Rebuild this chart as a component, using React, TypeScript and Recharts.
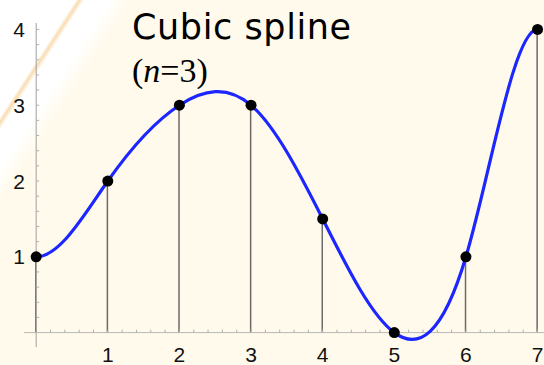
import { ComposedChart, Line, Bar, Scatter, XAxis, YAxis, ReferenceLine } from 'recharts';

// knot positions and values of the interpolated points
const knotX = [0, 1, 2, 3, 4, 5, 6, 7];
const knotY = [1, 2, 3, 3, 1.5, 0, 1, 4];

const xTickLabels = [1, 2, 3, 4, 5, 6, 7];
const yTickLabels = [1, 2, 3, 4];

const points = knotX.map((x, i) => ({ x, y: knotY[i] }));

// small axis tick marks every 0.2
const minorXTicks = Array.from({ length: 35 }, (_, i) => ({ x: (i + 1) / 5, y: 0 }));
const minorYTicks = Array.from({ length: 20 }, (_, i) => ({ x: 0, y: (i + 1) / 5 }));

const W = 544;
const H = 365;

// cubic spline through the points with zero slope at both ends (clamped),
// handed to the Line as a d3-style curve factory
function clampedSpline(context: any) {
  let xs: number[] = [];
  let ys: number[] = [];
  return {
    areaStart() {},
    areaEnd() {},
    lineStart() {
      xs = [];
      ys = [];
    },
    point(x: number, y: number) {
      xs.push(+x);
      ys.push(+y);
    },
    lineEnd() {
      const n = xs.length;
      if (!n) return;
      context.moveTo(xs[0], ys[0]);
      if (n === 1) return;
      const h: number[] = [];
      const d: number[] = [];
      for (let i = 0; i < n - 1; i++) {
        h.push(xs[i + 1] - xs[i]);
        d.push((ys[i + 1] - ys[i]) / h[i]);
      }
      const s = new Array(n).fill(0);
      if (n > 2) {
        const cp: number[] = [];
        const dp: number[] = [];
        for (let i = 1; i < n - 1; i++) {
          const a = i > 1 ? h[i] : 0;
          const b = 2 * (h[i - 1] + h[i]);
          const c = i < n - 2 ? h[i - 1] : 0;
          const r = 3 * (h[i] * d[i - 1] + h[i - 1] * d[i]);
          const k = i - 1;
          const denom = k > 0 ? b - a * cp[k - 1] : b;
          cp[k] = c / denom;
          dp[k] = k > 0 ? (r - a * dp[k - 1]) / denom : r / denom;
        }
        for (let k = n - 3; k >= 0; k--) {
          s[k + 1] = dp[k] - (k < n - 3 ? cp[k] * s[k + 2] : 0);
        }
      }
      for (let i = 0; i < n - 1; i++) {
        const t = h[i] / 3;
        context.bezierCurveTo(
          xs[i] + t,
          ys[i] + s[i] * t,
          xs[i + 1] - t,
          ys[i + 1] - s[i + 1] * t,
          xs[i + 1],
          ys[i + 1],
        );
      }
    },
  };
}

const XTickMark = (props: any) => (
  <line x1={props.cx} x2={props.cx} y1={props.cy} y2={props.cy - 3} stroke="#b0b0b0" strokeWidth={1} />
);

const YTickMark = (props: any) => (
  <line x1={props.cx} x2={props.cx + 3} y1={props.cy} y2={props.cy} stroke="#b0b0b0" strokeWidth={1} />
);

const labelStyle = { fontFamily: 'Liberation Sans', fontSize: '21px', fill: '#111' };

const XTick = (props: any) => (
  <text x={props.x} y={props.y + 15} textAnchor="middle" style={labelStyle}>
    {props.payload.value}
  </text>
);

const YTick = (props: any) => (
  <text x={props.x + 1} y={props.y + 7.5} textAnchor="end" style={labelStyle}>
    {props.payload.value}
  </text>
);

function App() {
  return (
    <div
      style={{
        position: 'absolute',
        left: 0,
        top: 0,
        width: W,
        height: H,
        background:
          'linear-gradient(123deg, #ffffff 0%, #ffffff 9.7%, #f9dcb0 10.2%, #ffffff 10.8%, #ffffff 14%, #fffaeb 17%, #fffaeb 100%)',
      }}
    >
      <ComposedChart
        width={W}
        height={H}
        data={points}
        margin={{ top: 23, right: 0, bottom: 0, left: 0 }}
      >
        <XAxis
          dataKey="x"
          type="number"
          domain={[-0.17, 7.09]}
          ticks={xTickLabels}
          axisLine={false}
          tickLine={false}
          tickSize={0}
          tickMargin={0}
          height={18}
          tick={<XTick />}
          interval={0}
        />
        <YAxis
          type="number"
          domain={[-0.19, 4.085]}
          ticks={yTickLabels}
          axisLine={false}
          tickLine={false}
          tickSize={0}
          tickMargin={0}
          width={24}
          tick={<YTick />}
          interval={0}
        />
        <ReferenceLine x={0} stroke="#a0a0a0" strokeWidth={1} />
        <ReferenceLine y={0} stroke="#b8b8b8" strokeWidth={1} />
        <Scatter data={minorXTicks} dataKey="y" shape={XTickMark} isAnimationActive={false} />
        <Scatter data={minorYTicks} dataKey="y" shape={YTickMark} isAnimationActive={false} />
        <Bar dataKey="y" barSize={1.5} fill="#6a6a6a" isAnimationActive={false} />
        <Line
          type={clampedSpline as any}
          dataKey="y"
          stroke="#1c26ff"
          strokeWidth={3.2}
          dot={{ r: 5.5, fill: '#000', stroke: 'none' }}
          activeDot={false}
          isAnimationActive={false}
        />
      </ComposedChart>
      <svg
        width={W}
        height={H}
        style={{ position: 'absolute', left: 0, top: 0, pointerEvents: 'none' }}
      >
        <text x={132} y={39} fontFamily="DejaVu Sans" fontSize={35} letterSpacing={0.6} fill="#000">
          Cubic spline
        </text>
        <text x={132} y={82} fontFamily="Liberation Serif" fontSize={34} fill="#000">
          (<tspan fontStyle="italic">n</tspan>=3)
        </text>
      </svg>
    </div>
  );
}

export default App;
